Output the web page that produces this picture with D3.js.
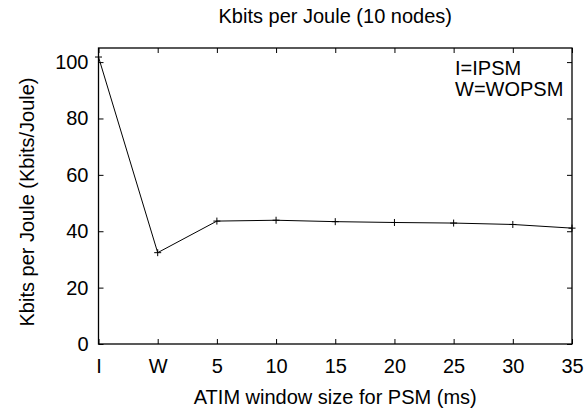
<!DOCTYPE html>
<html>
<head>
<meta charset="utf-8">
<script src="https://cdn.jsdelivr.net/npm/d3@7"></script>
<style>
    body { margin: 0; background: #fff; overflow: hidden; }
    svg { display: block; }
</style>
</head>
<body>
<div id="chart"></div>
<script>
const categories = ['I', 'W', '5', '10', '15', '20', '25', '30', '35'];
const kbitsPerJoule = [101.8, 32.4, 43.6, 43.9, 43.4, 43.1, 42.9, 42.4, 41.1];
const yTicks = [0, 20, 40, 60, 80, 100];
const legendLines = ['I=IPSM', 'W=WOPSM'];

const width = 587;
const height = 412;
const margin = { top: 48, right: 15, bottom: 68, left: 98.5 };
const innerWidth = width - margin.left - margin.right;
const innerHeight = height - margin.top - margin.bottom;
const fontFamily = '"Liberation Sans", Arial, sans-serif';

const svg = d3.select('#chart')
    .append('svg')
    .attr('width', width)
    .attr('height', height)
    .attr('font-family', fontFamily)
    .attr('font-size', 20);

const g = svg.append('g')
    .attr('transform', `translate(${margin.left},${margin.top})`);

const x = d3.scalePoint()
    .domain(categories)
    .range([0, innerWidth])
    .padding(0);

const y = d3.scaleLinear()
    .domain([0, 105])
    .range([innerHeight, 0]);

// ticks point inward on all four sides
const tickLen = 5;

const bottomAxis = g.append('g')
    .attr('transform', `translate(0,${innerHeight})`)
    .call(d3.axisBottom(x).tickSizeInner(-tickLen).tickSizeOuter(0).tickPadding(15));

const leftAxis = g.append('g')
    .call(d3.axisLeft(y).tickValues(yTicks).tickSizeInner(-tickLen).tickSizeOuter(0).tickPadding(10));

const topAxis = g.append('g')
    .call(d3.axisTop(x).tickSizeInner(-tickLen).tickSizeOuter(0));

const rightAxis = g.append('g')
    .attr('transform', `translate(${innerWidth},0)`)
    .call(d3.axisRight(y).tickValues(yTicks).tickSizeInner(-tickLen).tickSizeOuter(0));

// mirror axes only carry tick marks
topAxis.selectAll('text').remove();
rightAxis.selectAll('text').remove();

[bottomAxis, leftAxis, topAxis, rightAxis].forEach(axis => {
    axis.attr('font-family', null).attr('font-size', null).attr('fill', null);
    axis.select('.domain').remove();
    axis.selectAll('line').attr('stroke', '#000').attr('stroke-width', 1);
    axis.selectAll('text')
        .attr('fill', '#000')
        .attr('font-family', fontFamily)
        .attr('font-size', 20);
});

bottomAxis.selectAll('text').attr('dy', '0.71em');

g.append('rect')
    .attr('x', 0)
    .attr('y', 0)
    .attr('width', innerWidth)
    .attr('height', innerHeight)
    .attr('fill', 'none')
    .attr('stroke', '#000')
    .attr('stroke-width', 1.3);

const line = d3.line()
    .x((d, i) => x(categories[i]))
    .y(d => y(d));

g.append('path')
    .datum(kbitsPerJoule)
    .attr('fill', 'none')
    .attr('stroke', '#000')
    .attr('stroke-width', 1)
    .attr('d', line);

g.append('g')
    .selectAll('path')
    .data(kbitsPerJoule)
    .enter()
    .append('path')
    .attr('transform', (d, i) => `translate(${x(categories[i])},${y(d)})`)
    .attr('d', 'M-3.5,0H3.5M0,-3.5V3.5')
    .attr('stroke', '#000')
    .attr('stroke-width', 1)
    .attr('fill', 'none');

svg.append('text')
    .attr('x', margin.left + innerWidth / 2)
    .attr('y', 23)
    .attr('text-anchor', 'middle')
    .text('Kbits per Joule (10 nodes)');

svg.append('text')
    .attr('x', margin.left + innerWidth / 2)
    .attr('y', 404)
    .attr('text-anchor', 'middle')
    .text('ATIM window size for PSM (ms)');

svg.append('text')
    .attr('transform', `translate(34,${margin.top + innerHeight / 2 + 6}) rotate(-90)`)
    .attr('text-anchor', 'middle')
    .text('Kbits per Joule (Kbits/Joule)');

svg.append('g')
    .selectAll('text')
    .data(legendLines)
    .enter()
    .append('text')
    .attr('x', 455)
    .attr('y', (d, i) => 75 + i * 20.5)
    .text(d => d);
</script>
</body>
</html>
